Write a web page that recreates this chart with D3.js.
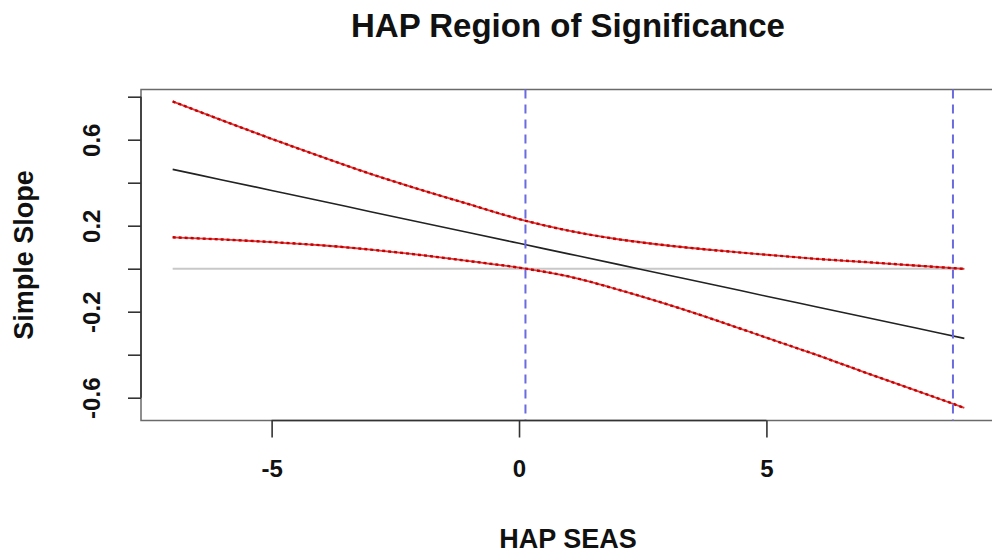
<!DOCTYPE html>
<html>
<head>
<meta charset="utf-8">
<script src="https://cdn.jsdelivr.net/npm/d3@7"></script>
<style>
  html, body { margin: 0; padding: 0; background: #fff; }
  svg { display: block; }
  text { font-family: "Liberation Sans", Arial, Helvetica, sans-serif; font-weight: bold; fill: #111; }
</style>
</head>
<body>
<svg id="chart" width="992" height="560"></svg>
<script>
// ---- data ----
const moderator = [-7, -6, -5, -4, -3, -2, -1, 0, 1, 2, 3, 4, 5, 6, 7, 8, 9];
const simpleSlope = [0.462, 0.413, 0.364, 0.315, 0.265, 0.216, 0.167, 0.118, 0.069, 0.020, -0.029, -0.078, -0.128, -0.177, -0.226, -0.275, -0.324];
const upperCI = [0.778, 0.690, 0.604, 0.521, 0.441, 0.368, 0.299, 0.231, 0.177, 0.137, 0.108, 0.085, 0.065, 0.046, 0.031, 0.015, -0.001];
const lowerCI = [0.146, 0.136, 0.124, 0.109, 0.089, 0.064, 0.035, 0.005, -0.036, -0.097, -0.166, -0.241, -0.321, -0.400, -0.483, -0.565, -0.647];
const jnPoints = [0.13, 8.77];
const xTicks = [-5, 0, 5];
const xTickLabels = ["-5", "0", "5"];
const yTicks = [-0.6, -0.4, -0.2, 0, 0.2, 0.4, 0.6, 0.8];
const yTickLabels = ["-0.6", "", "-0.2", "", "0.2", "", "0.6", ""];
const titleText = "HAP Region of Significance";
const xLabel = "HAP SEAS";
const yLabel = "Simple Slope";

// ---- layout ----
const svg = d3.select("#chart");
const pLeft = 141, pRight = 996, pTop = 89.5, pBottom = 420.5;

const x = d3.scaleLinear().domain([-7.64, 9.64]).range([pLeft, pRight]);
const y = d3.scaleLinear().domain([-0.706, 0.8335]).range([pBottom, pTop]);

// plot box
svg.append("rect")
  .attr("x", pLeft).attr("y", pTop)
  .attr("width", pRight - pLeft).attr("height", pBottom - pTop)
  .attr("fill", "none").attr("stroke", "#6a6a6a").attr("stroke-width", 1.5);

// zero reference line
svg.append("line")
  .attr("x1", x(moderator[0])).attr("x2", x(moderator[moderator.length - 1]))
  .attr("y1", y(0)).attr("y2", y(0))
  .attr("stroke", "#c8c8c8").attr("stroke-width", 2);

const lineGen = (vals) => d3.line()
  .x((d, i) => x(moderator[i]))
  .y(d => y(d))
  .curve(d3.curveMonotoneX)(vals);

// confidence bands (red)
[upperCI, lowerCI].forEach(vals => {
  svg.append("path").attr("d", lineGen(vals))
    .attr("fill", "none").attr("stroke", "#e33b3b").attr("stroke-width", 1.8);
  svg.append("path").attr("d", lineGen(vals))
    .attr("fill", "none").attr("stroke", "#c40000").attr("stroke-width", 2.4)
    .attr("stroke-dasharray", "3,3");
});

// simple slope line (black)
svg.append("path").attr("d", lineGen(simpleSlope))
  .attr("fill", "none").attr("stroke", "#222").attr("stroke-width", 1.6);

// Johnson-Neyman dashed lines
svg.selectAll(".jn").data(jnPoints).enter().append("line")
  .attr("class", "jn")
  .attr("x1", d => x(d)).attr("x2", d => x(d))
  .attr("y1", pTop).attr("y2", pBottom)
  .attr("stroke", "#6b6be0").attr("stroke-width", 2)
  .attr("stroke-dasharray", "9,6");

// x axis
const xAxis = d3.axisBottom(x).tickValues(xTicks).tickSize(17).tickPadding(22)
  .tickFormat((d, i) => xTickLabels[i]);
const gx = svg.append("g").attr("transform", `translate(0,${pBottom})`).call(xAxis);
gx.select(".domain").remove();
gx.append("line").attr("x1", x(xTicks[0])).attr("x2", x(xTicks[xTicks.length - 1]))
  .attr("y1", 0).attr("y2", 0).attr("stroke", "#333").attr("stroke-width", 1.6);
gx.selectAll(".tick line").attr("stroke", "#333").attr("stroke-width", 1.6);
gx.selectAll(".tick text").style("font-size", "24px").attr("fill", "#111")
  .style("font-family", "'Liberation Sans', Arial, sans-serif").style("font-weight", "bold")
  .attr("dy", "0.71em");

// y axis
const yAxis = d3.axisLeft(y).tickValues(yTicks).tickSize(13)
  .tickFormat((d, i) => yTickLabels[i]);
const gy = svg.append("g").attr("transform", `translate(${pLeft},0)`).call(yAxis);
gy.select(".domain").remove();
gy.append("line").attr("x1", 0).attr("x2", 0)
  .attr("y1", y(yTicks[0])).attr("y2", y(yTicks[yTicks.length - 1]))
  .attr("stroke", "#333").attr("stroke-width", 1.6);
gy.selectAll(".tick line").attr("stroke", "#333").attr("stroke-width", 1.6);
gy.selectAll(".tick text")
  .style("font-size", "24px").attr("fill", "#111")
  .style("font-family", "'Liberation Sans', Arial, sans-serif").style("font-weight", "bold")
  .attr("x", null).attr("dy", null)
  .attr("text-anchor", "middle")
  .attr("transform", "translate(-41,0) rotate(-90)");

// title
svg.append("text").attr("x", 568).attr("y", 37)
  .attr("text-anchor", "middle").style("font-size", "33px").text(titleText);

// x label
svg.append("text").attr("x", 568).attr("y", 548)
  .attr("text-anchor", "middle").style("font-size", "27px").text(xLabel);

// y label
svg.append("text")
  .attr("transform", `translate(33,${(pTop + pBottom) / 2}) rotate(-90)`)
  .attr("text-anchor", "middle").style("font-size", "27px").text(yLabel);
</script>
</body>
</html>
